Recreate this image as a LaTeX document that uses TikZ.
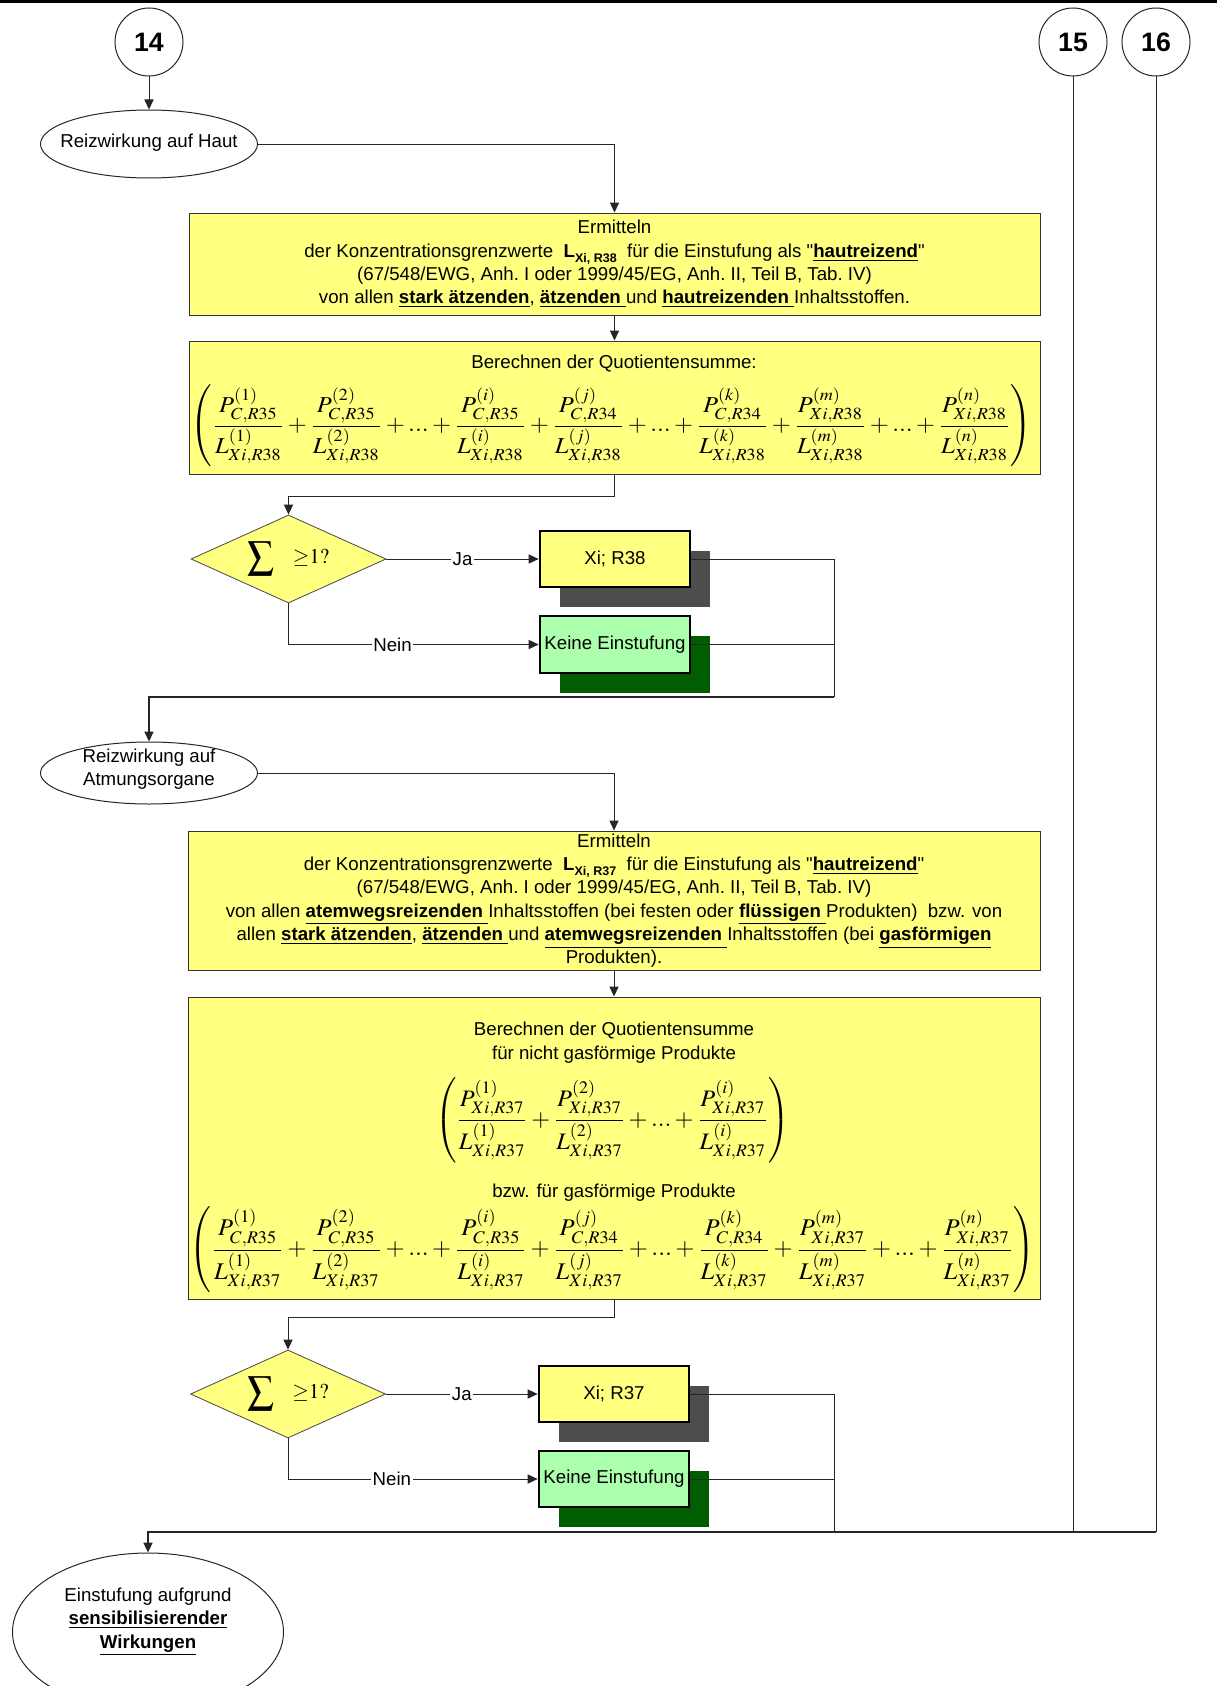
\documentclass[tikz,border=0pt]{standalone}
\usepackage{mathptmx}
\usepackage[no-math]{fontspec}
\setmainfont{Liberation Sans}
\usepackage{graphicx}
\usetikzlibrary{shapes.geometric,arrows.meta,shadows}
\definecolor{yfill}{RGB}{255,255,128}
\definecolor{gfill}{RGB}{172,255,172}
\definecolor{shgray}{RGB}{77,77,77}
\definecolor{shgreen}{RGB}{0,94,0}
\newcommand{\bul}[1]{\underline{\textbf{#1}}}
\newcommand{\qq}{\textquotedbl}
\newcommand{\Lsub}[1]{\textbf{L\raisebox{-0.55ex}{\fontsize{7.5}{8}\selectfont #1}}}
\newcommand{\fr}[3]{\frac{P^{(#1)}_{#2}}{L^{(#1)}_{#3}}}
\newcommand{\dd}{{...}}
\tikzset{
  conn/.style={draw=black!85,line width=0.6pt},
  arr/.style={conn,-{Triangle[length=6pt,width=5.5pt]}},
  sz/.style 2 args={minimum width=#1*0.6pt,minimum height=#2*0.6pt},
  ybox/.style={rectangle,draw=black!80,fill=yfill,line width=0.6pt,inner sep=0pt,align=center},
  oval/.style={ellipse,draw=black!85,fill=white,line width=0.6pt,inner sep=0pt},
  conncircle/.style={circle,draw=black!85,fill=white,line width=0.6pt,inner sep=0pt,
     minimum size=40.8pt,font=\fontsize{16}{16}\selectfont\bfseries},
  decision/.style={diamond,draw=black!70,fill=yfill,line width=0.5pt,inner sep=0pt,aspect=2.2},
  resultbox/.style={rectangle,draw=black,line width=1.6pt,inner sep=0pt,align=center},
  xibox/.style={resultbox,fill=yfill,drop shadow={shadow xshift=12pt,shadow yshift=-12pt,fill=shgray,opacity=1}},
  nobox/.style={resultbox,fill=gfill,drop shadow={shadow xshift=12pt,shadow yshift=-12pt,fill=shgreen,opacity=1}},
  lbl/.style={fill=white,inner sep=1pt},
  txt/.style={inner sep=0pt,align=center}
}
\begin{document}
\begin{tikzpicture}[x=0.6pt,y=-0.6pt,font=\fontsize{11.2}{14}\selectfont]
\useasboundingbox (0,0) rectangle (1217,1686);
\draw[line width=1.7pt] (0,1.4) -- (1217,1.4);

% connectors on the top
\node[conncircle] (c14) at (149,42) {14};
\node[conncircle] (c15) at (1073,42) {15};
\node[conncircle] (c16) at (1156,42) {16};

\node[oval,sz={217}{68}] (e1) at (149,144) {};
\node[txt] (t1) at (149,143) {Reizwirkung auf Haut};

\node[ybox,sz={851}{102}] (b1) at (614.5,264) {Ermitteln\\
der Konzentrationsgrenzwerte\ \ \Lsub{Xi, R38}\ \ für die Einstufung als \qq\bul{hautreizend}\qq\\
(67/548/EWG, Anh.~I oder 1999/45/EG, Anh.~II, Teil B, Tab.~IV)\\
von allen \bul{stark ätzenden}, \bul{ätzenden\ }und \bul{hautreizenden\ }Inhaltsstoffen.};

\node[ybox,sz={851}{133}] (b2) at (614.5,407.5) {};
\node[txt] (t2) at (614,363) {Berechnen der Quotientensumme:};
\node[txt] (f1) at (611.5,426) {\resizebox*{504.6pt}{49.2pt}{$\displaystyle
\left(\fr{1}{C,R35}{Xi,R38}+\fr{2}{C,R35}{Xi,R38}+\dd+\fr{i}{C,R35}{Xi,R38}+\fr{j}{C,R34}{Xi,R38}+\dd+\fr{k}{C,R34}{Xi,R38}+\fr{m}{Xi,R38}{Xi,R38}+\dd+\fr{n}{Xi,R38}{Xi,R38}\right)$}};

\node[decision,sz={195}{88}] (d1) at (288.5,559) {$\vcenter{\hbox{\resizebox*{16.2pt}{20.4pt}{$\sum$}}}$\hspace{11pt}{\fontsize{12.7}{13}\selectfont${\geq}1?$}};
\node[xibox,sz={150}{56}] (x1) at (615,559) {Xi; R38};
\node[nobox,sz={150}{57}] (k1) at (615,644.5) {Keine Einstufung};

\node[oval,sz={217}{62}] (e2) at (149,773) {};
\node[txt] (t6) at (149,769) {Reizwirkung auf\\Atmungsorgane};

\node[ybox,sz={852}{139}] (b3) at (614,900.5) {Ermitteln\\
der Konzentrationsgrenzwerte\ \ \Lsub{Xi, R37}\ \ für die Einstufung als \qq\bul{hautreizend}\qq\\
(67/548/EWG, Anh.~I oder 1999/45/EG, Anh.~II, Teil B, Tab.~IV)\\
von allen \bul{atemwegsreizenden\ }Inhaltsstoffen (bei festen oder \bul{flüssigen\ }Produkten)\ \ bzw. von\\
allen \bul{stark ätzenden}, \bul{ätzenden\ }und \bul{atemwegsreizenden\ }Inhaltsstoffen (bei \bul{gasförmigen}\\
Produkten).};

\node[ybox,sz={852}{302}] (b4) at (614,1148) {};
\node[txt] (t4) at (614,1042.5) {Berechnen der Quotientensumme\\für nicht gasförmige Produkte};
\node[txt] (f2) at (612.5,1120.5) {\resizebox*{213pt}{51pt}{$\displaystyle
\left(\fr{1}{Xi,R37}{Xi,R37}+\fr{2}{Xi,R37}{Xi,R37}+\dd+\fr{i}{Xi,R37}{Xi,R37}\right)$}};
\node[txt] (t5) at (614,1193) {bzw. für gasförmige Produkte};
\node[txt] (f3) at (612.5,1250) {\resizebox*{507pt}{51.6pt}{$\displaystyle
\left(\fr{1}{C,R35}{Xi,R37}+\fr{2}{C,R35}{Xi,R37}+\dd+\fr{i}{C,R35}{Xi,R37}+\fr{j}{C,R34}{Xi,R37}+\dd+\fr{k}{C,R34}{Xi,R37}+\fr{m}{Xi,R37}{Xi,R37}+\dd+\fr{n}{Xi,R37}{Xi,R37}\right)$}};

\node[decision,sz={195}{88}] (d2) at (288,1394) {$\vcenter{\hbox{\resizebox*{16.2pt}{20.4pt}{$\sum$}}}$\hspace{11pt}{\fontsize{12.7}{13}\selectfont${\geq}1?$}};
\node[xibox,sz={150}{56}] (x2) at (614,1394) {Xi; R37};
\node[nobox,sz={150}{56}] (k2) at (614,1479) {Keine Einstufung};

\node[oval,sz={271}{158}] (e3) at (148,1632) {};
\node[txt] (t3) at (148,1622) {Einstufung aufgrund\\\bul{sensibilisierender}\\\bul{Wirkungen}};

\coordinate (j1) at (834,697);
\coordinate (j2) at (834,1532);
\coordinate (j3) at (1156,1532);

% connectors
\draw[arr] (c14) -- (e1);
\draw[arr] (e1.east) -| (b1.north);
\draw[arr] (b1.south) -- (b2.north);
\draw[arr] (b2.south) -- ++(0,22) -| (d1.north);
\draw[arr] (d1.east) -- node[lbl] (ja1) {Ja} (x1.west);
\draw[arr] (d1.south) |- node[lbl,pos=0.708] (nein1) {Nein} (k1.west);
\draw[conn] (x1.east) -| (j1);
\draw[conn] (k1.east) -- (k1.east -| j1);
\draw[arr,line width=0.7pt] (j1) -| (e2.north);

\draw[arr] (e2.east) -| (b3.north);
\draw[arr] (b3.south) -- (b4.north);
\draw[arr] (b4.south) -- ++(0,18) -| (d2.north);
\draw[arr] (d2.east) -- node[lbl] (ja2) {Ja} (x2.west);
\draw[arr] (d2.south) |- node[lbl,pos=0.708] (nein2) {Nein} (k2.west);
\draw[conn] (x2.east) -| (j2);
\draw[conn] (k2.east) -- (k2.east -| j2);
\draw[conn] (c15.south) -- (c15.south |- j3);
\draw[conn] (c16.south) -- (j3);
\draw[arr,line width=1pt] (j3) -| (e3.north);
\end{tikzpicture}
\end{document}
